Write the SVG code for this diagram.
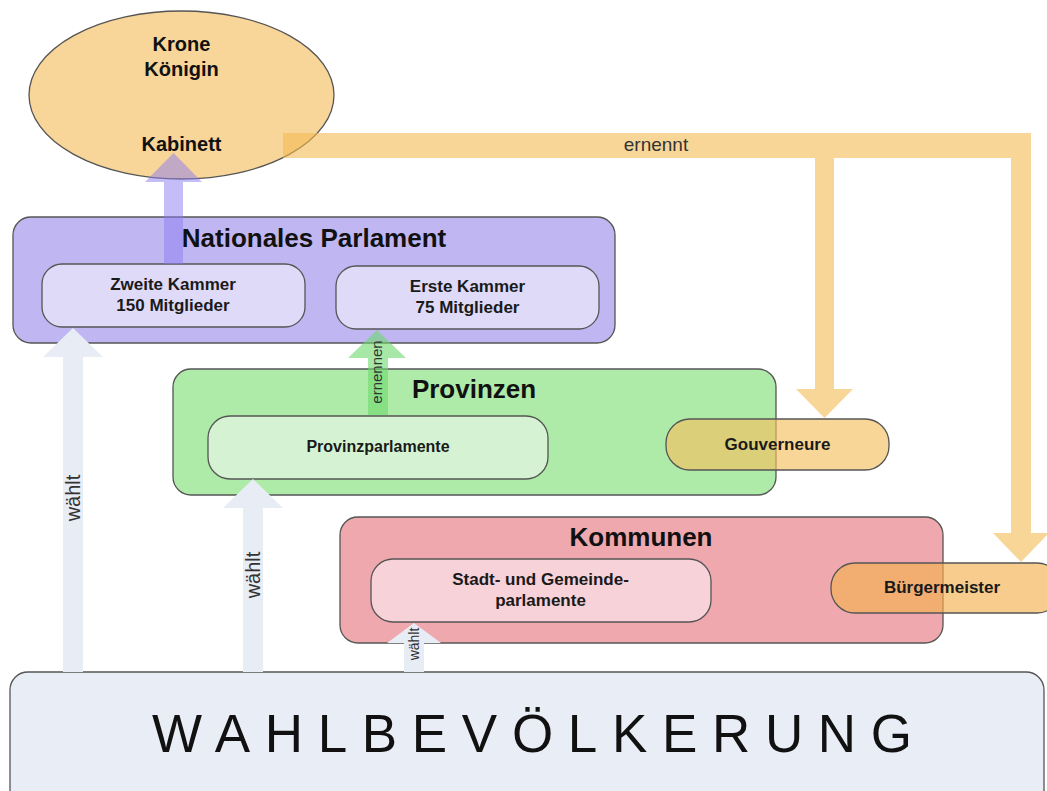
<svg xmlns="http://www.w3.org/2000/svg" width="1047" height="791" viewBox="0 0 1047 791">
<style>
.box{stroke:#555;stroke-width:1.3}
.lbl{font-family:"Liberation Sans",Arial,sans-serif;font-weight:bold;font-size:17px;fill:#1a1a1a;text-anchor:middle}
.ttl{font-family:"Liberation Sans",Arial,sans-serif;font-weight:bold;font-size:26px;fill:#111;text-anchor:middle}
.crown{font-family:"Liberation Sans",Arial,sans-serif;font-weight:bold;font-size:20px;fill:#111;text-anchor:middle}
.clbl{font-family:"Liberation Sans",Arial,sans-serif;font-size:19px;fill:#333;text-anchor:middle}
.vote{fill:#e8ecf5}
</style>
<rect width="1047" height="791" fill="#ffffff"/>
<g id="krone">
<ellipse cx="181.5" cy="95" rx="152.5" ry="84" fill="#f8d598" class="box"/>
<text class="crown" x="181.5" y="51">Krone</text>
<text class="crown" x="181.5" y="76">Königin</text>
<text class="crown" x="181.5" y="151">Kabinett</text>
</g>
<g id="parlament">
<rect x="13" y="217" width="602" height="126" rx="18" fill="#c0b6f2" class="box"/>
<text class="ttl" x="314" y="247">Nationales Parlament</text>
</g>
<g id="zweite-kammer">
<rect x="42" y="264" width="263" height="63" rx="20" fill="#dedaf8" class="box"/>
<text class="lbl" x="173" y="290">Zweite Kammer</text>
<text class="lbl" x="173" y="311">150 Mitglieder</text>
</g>
<g id="erste-kammer">
<rect x="336" y="266" width="263" height="63" rx="20" fill="#dedaf8" class="box"/>
<text class="lbl" x="467.5" y="292">Erste Kammer</text>
<text class="lbl" x="467.5" y="313">75 Mitglieder</text>
</g>
<g id="provinzen">
<rect x="173" y="369" width="603" height="126" rx="18" fill="#aeeaa8" class="box"/>
<text class="ttl" x="474" y="398">Provinzen</text>
</g>
<g id="provinzparlamente">
<rect x="208" y="416" width="340" height="63" rx="22" fill="#d5f3d2" class="box"/>
<text class="lbl" x="378" y="452" style="font-size:16px">Provinzparlamente</text>
</g>
<g id="kommunen">
<rect x="340" y="517" width="603" height="126" rx="18" fill="#eea8ae" class="box"/>
<text class="ttl" x="641" y="546">Kommunen</text>
</g>
<g id="gemeindeparlamente">
<rect x="371" y="559" width="340" height="63" rx="22" fill="#f7d2d8" class="box"/>
<text class="lbl" x="540.5" y="585">Stadt- und Gemeinde-</text>
<text class="lbl" x="540.5" y="606">parlamente</text>
</g>
<g id="gouverneure">
<rect x="666" y="419" width="223" height="51" rx="24" fill="#f5c060" fill-opacity="0.65" class="box"/>
<text class="lbl" x="777.5" y="450">Gouverneure</text>
</g>
<g id="buergermeister">
<rect x="831" y="563" width="230" height="50" rx="24" fill="#f5b050" fill-opacity="0.65" class="box"/>
<text class="lbl" x="942" y="593">Bürgermeister</text>
</g>
<g id="wahlbevoelkerung">
<rect x="10" y="672" width="1034" height="150" rx="18" fill="#e8edf6" class="box"/>
<text x="152" y="752" textLength="760" lengthAdjust="spacing" style="font-family:'Liberation Sans',Arial,sans-serif;font-size:53px;fill:#111">WAHLBEVÖLKERUNG</text>
</g>
<g id="connectors">
<path d="M283,133 H1031 V158 H283 Z M1011,133 H1031 V533 H1049 L1021,562 L993,533 H1011 Z M815,150 H834 V389 H853 L824.5,418 L796,389 H815 Z" fill="#f3bb54" fill-opacity="0.6"/>
<text class="clbl" x="656" y="151">ernennt</text>
<polygon points="164,264 164,182 145,182 173.5,153 202,182 183,182 183,264" fill="#8a7cf0" fill-opacity="0.5"/>
<polygon points="368,415 368,358 348,358 377,330 406,358 388,358 388,415" fill="#6cd86c" fill-opacity="0.6"/>
<text class="clbl" transform="translate(377,372) rotate(-90)" y="5" style="font-size:15px">ernennen</text>
<polygon class="vote" points="63,672 63,357 43,357 73,328 103,357 83,357 83,672"/>
<text class="clbl" transform="translate(73,498) rotate(-90)" y="7" style="font-size:20px">wählt</text>
<polygon class="vote" points="243,672 243,508 223,508 253,479 283,508 263,508 263,672"/>
<text class="clbl" transform="translate(253,575) rotate(-90)" y="7" style="font-size:20px">wählt</text>
<polygon class="vote" points="404,672 404,643 387,643 414,623 441,643 424,643 424,672"/>
<text class="clbl" transform="translate(414,644) rotate(-90)" y="5" style="font-size:14px">wählt</text>
</g>
</svg>
